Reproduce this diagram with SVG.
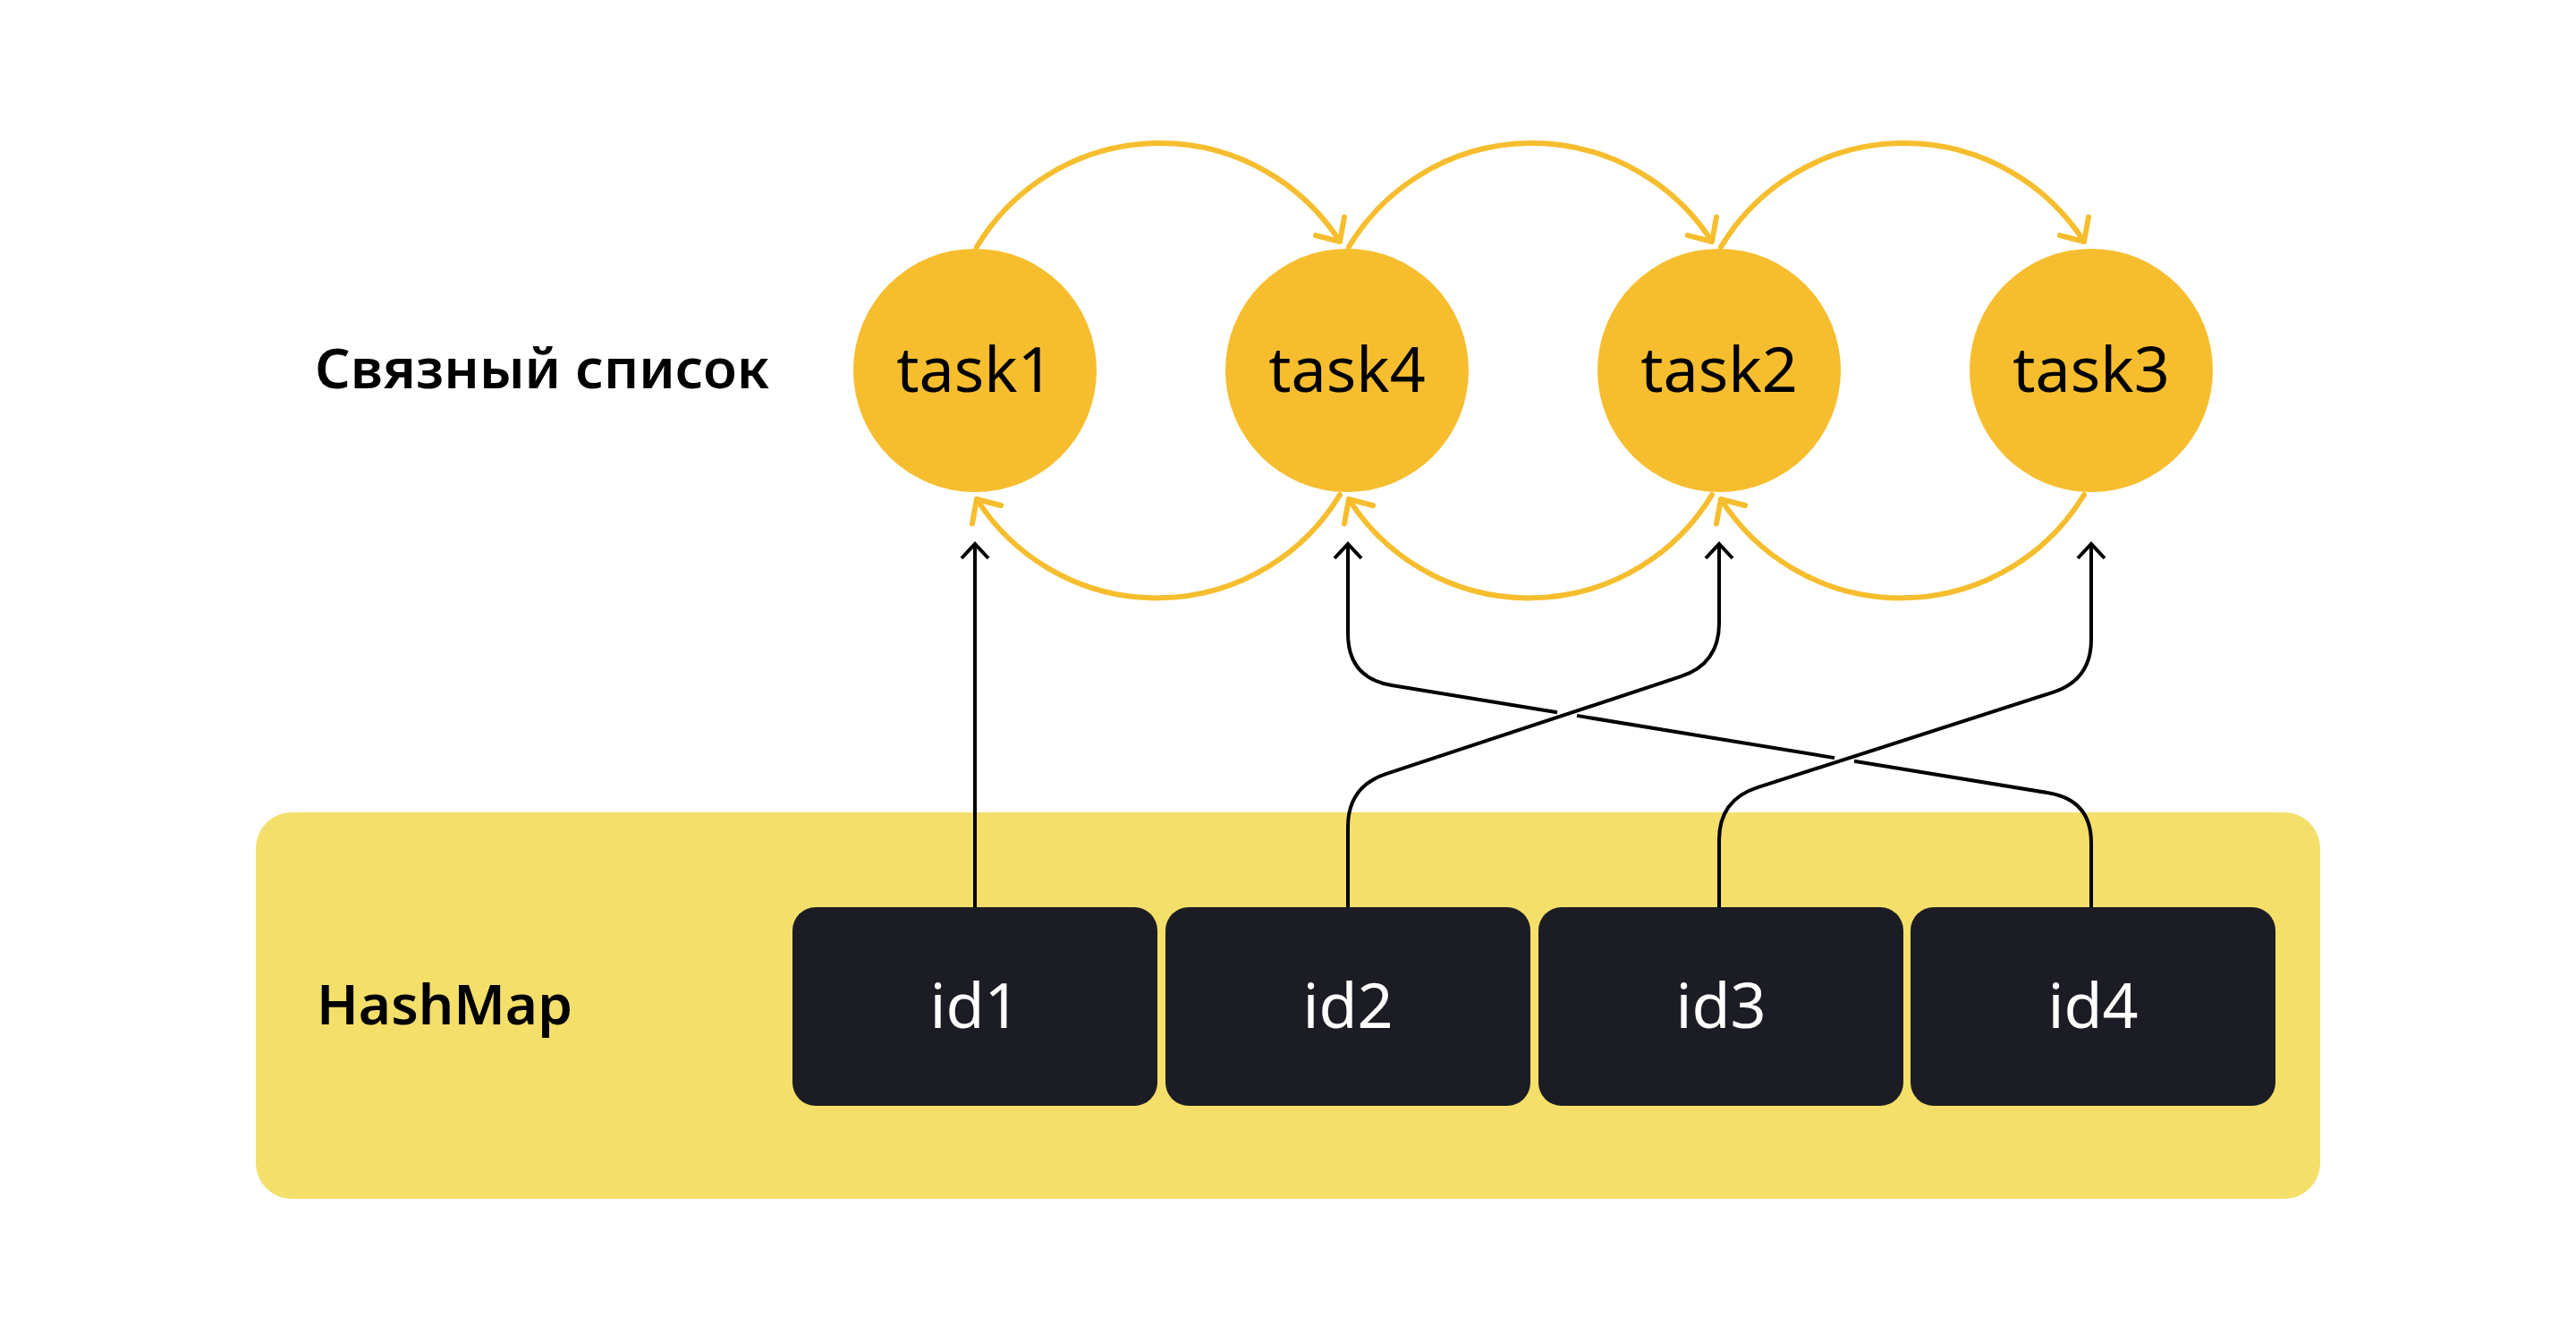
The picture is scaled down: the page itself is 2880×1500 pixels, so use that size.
<svg xmlns="http://www.w3.org/2000/svg" width="2880" height="1500" viewBox="0 0 2880 1500">
<style>
.lbl{font-family:"Noto Sans","Open Sans","DejaVu Sans",sans-serif;font-size:62px;font-weight:600;fill:#000}
.tt{font-family:"Noto Sans","Open Sans","DejaVu Sans",sans-serif;font-size:70px;fill:#000;text-anchor:middle}
.it{font-family:"Noto Sans","Open Sans","DejaVu Sans",sans-serif;font-size:70px;fill:#fff;text-anchor:middle}
.task{fill:#F6BE2E}
.key{fill:#1C1D24}
.ya{fill:none;stroke:#F6BE2E;stroke-width:6;stroke-linecap:round;marker-end:url(#ah-y)}
.bl{fill:none;stroke:#000;stroke-width:4}
.ba{marker-end:url(#ah-b)}
</style>
<defs>
<marker id="ah-y" markerUnits="userSpaceOnUse" viewBox="-30 -30 60 60" markerWidth="60" markerHeight="60" refX="0" refY="0" orient="auto">
<path d="M-20.5,-19.1 L0,0 L-20.5,19.1" fill="none" stroke="#F6BE2E" stroke-width="6" stroke-linecap="round" stroke-linejoin="round"/>
</marker>
<marker id="ah-b" markerUnits="userSpaceOnUse" viewBox="-30 -30 60 60" markerWidth="60" markerHeight="60" refX="0" refY="0" orient="auto">
<path d="M-16,-15 L0,0 L-16,15" fill="none" stroke="#000" stroke-width="4"/>
</marker>
</defs>
<rect width="2880" height="1500" fill="#fff"/>
<g id="hashmap">
<rect x="286" y="908" width="2308" height="432" rx="40" ry="40" fill="#F4DF6A"/>
<text class="lbl" x="354" y="1145">HashMap</text>
</g>
<text id="list-label" class="lbl" x="352" y="434">Связный список</text>
<g id="task1"><circle class="task" cx="1090" cy="414" r="136"/><text class="tt" x="1090" y="438">task1</text></g>
<g id="task4"><circle class="task" cx="1506" cy="414" r="136"/><text class="tt" x="1506" y="438">task4</text></g>
<g id="task2"><circle class="task" cx="1922" cy="414" r="136"/><text class="tt" x="1922" y="438">task2</text></g>
<g id="task3"><circle class="task" cx="2338" cy="414" r="136"/><text class="tt" x="2338" y="438">task3</text></g>
<g id="id1"><rect class="key" x="886" y="1014" width="408" height="222" rx="26"/><text class="it" x="1090" y="1149">id1</text></g>
<g id="id2"><rect class="key" x="1303" y="1014" width="408" height="222" rx="26"/><text class="it" x="1507" y="1149">id2</text></g>
<g id="id3"><rect class="key" x="1720" y="1014" width="408" height="222" rx="26"/><text class="it" x="1924" y="1149">id3</text></g>
<g id="id4"><rect class="key" x="2136" y="1014" width="408" height="222" rx="26"/><text class="it" x="2340" y="1149">id4</text></g>
<g id="connectors">
<path class="ya" d="M1092,276 A239,239 0 0 1 1498,270"/>
<path class="ya" d="M1508,276 A239,239 0 0 1 1914,270"/>
<path class="ya" d="M1924,276 A239,239 0 0 1 2330,270"/>
<path class="ya" d="M1498,553 A239,239 0 0 1 1092,558"/>
<path class="ya" d="M1914,553 A239,239 0 0 1 1508,558"/>
<path class="ya" d="M2330,553 A239,239 0 0 1 1924,558"/>
<path class="bl ba" d="M1090,1014 V608"/>
<path class="bl" d="M2338,1014 V942 Q2338,894 2290,886.2 L2073,850.7"/>
<path class="bl" d="M2051,847.1 L1763,799.9"/>
<path class="bl ba" d="M1741,796.3 L1556,766 Q1507,758 1507,708 V608"/>
<path class="bl ba" d="M1507,1014 V924 Q1507,879 1550,864.8 L1879,756.2 Q1922,742 1922,697 V608"/>
<path class="bl ba" d="M1922,1014 V939 Q1922,894 1965,880.2 L2295,773.9 Q2338,760 2338,715 V608"/>
</g>
</svg>
